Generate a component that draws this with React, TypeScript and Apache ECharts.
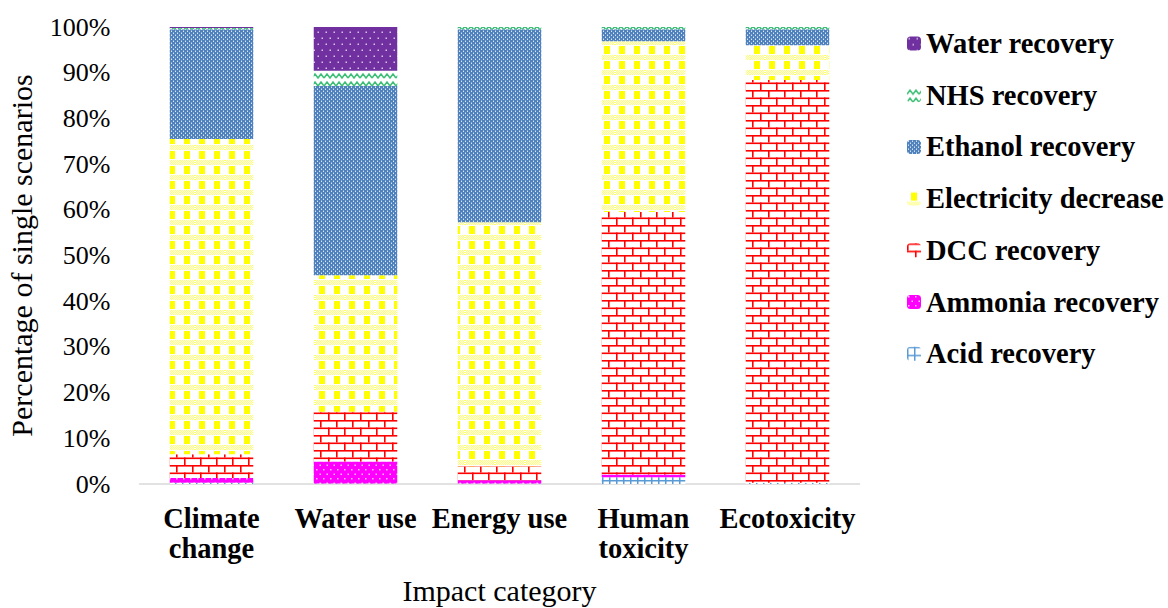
import React, { useEffect, useRef } from "react";
import * as echarts from "echarts";

const categories = ["Climate change", "Water use", "Energy use", "Human toxicity", "Ecotoxicity"];
const wrappedLabels: Record<string, string> = {
  "Climate change": "Climate\nchange",
  "Human toxicity": "Human\ntoxicity",
};
const yTicks = [0, 10, 20, 30, 40, 50, 60, 70, 80, 90, 100];

const acidRecovery = [0.3, 0.1, 0.1, 1.5, 0.3];
const ammoniaRecovery = [1.0, 4.8, 0.7, 0.6, 0.0];
const dccRecovery = [5.2, 10.9, 3.1, 57.4, 88.1];
const electricityDecrease = [69.0, 29.9, 53.4, 37.4, 7.6];
const ethanolRecovery = [24.0, 41.4, 42.2, 2.6, 3.5];
const nhsRecovery = [0.3, 3.3, 0.5, 0.5, 0.5];
const waterRecovery = [0.2, 9.6, 0.0, 0.0, 0.0];

const seriesNames = [
  "Acid recovery",
  "Ammonia recovery",
  "DCC recovery",
  "Electricity decrease",
  "Ethanol recovery",
  "NHS recovery",
  "Water recovery",
];
const seriesValues = [
  acidRecovery,
  ammoniaRecovery,
  dccRecovery,
  electricityDecrease,
  ethanolRecovery,
  nhsRecovery,
  waterRecovery,
];
const legendOrder = [
  "Water recovery",
  "NHS recovery",
  "Ethanol recovery",
  "Electricity decrease",
  "DCC recovery",
  "Ammonia recovery",
  "Acid recovery",
];

const FONT = "Liberation Serif, Times New Roman, serif";

function tile(w: number, h: number, draw: (c: CanvasRenderingContext2D) => void) {
  const cv = document.createElement("canvas");
  cv.width = w;
  cv.height = h;
  const ctx = cv.getContext("2d")!;
  draw(ctx);
  return { image: cv.toDataURL(), repeat: "repeat", imageWidth: w, imageHeight: h } as any;
}

function makePatterns() {
  const acid = tile(7, 8, (c) => {
    c.fillStyle = "#ffffff";
    c.fillRect(0, 0, 7, 8);
    c.fillStyle = "#5B9BD5";
    c.fillRect(0, 0, 1.5, 8);
    c.fillRect(0, 0, 7, 1.5);
  });
  const ammonia = tile(7, 9, (c) => {
    c.fillStyle = "#FF00FF";
    c.fillRect(0, 0, 7, 9);
    c.fillStyle = "#FFC0FF";
    c.fillRect(1, 1, 1.5, 1.5);
    c.fillRect(4.5, 5.5, 1.5, 1.5);
  });
  const dcc = tile(16, 15, (c) => {
    c.fillStyle = "#ffffff";
    c.fillRect(0, 0, 16, 15);
    c.fillStyle = "#FF0000";
    c.fillRect(0, 0, 16, 1.6);
    c.fillRect(0, 7.5, 16, 1.6);
    c.fillRect(0, 0, 1.6, 7.5);
    c.fillRect(8, 7.5, 1.6, 7.5);
  });
  const elec = tile(15, 15, (c) => {
    c.fillStyle = "#ffffff";
    c.fillRect(0, 0, 15, 15);
    c.fillStyle = "#FFFF00";
    c.fillRect(4, 1, 6, 8);
    c.fillStyle = "#FFFF66";
    for (let y = 10; y < 15; y++) {
      for (let x = 0; x < 15; x++) {
        if ((x + y) % 2 === 0) c.fillRect(x, y, 1, 1);
      }
    }
  });
  const ethanol = tile(4, 4, (c) => {
    c.fillStyle = "#4F81BD";
    c.fillRect(0, 0, 4, 4);
    c.fillStyle = "#DCE8F5";
    c.fillRect(1, 1, 1, 1);
    c.fillRect(3, 3, 1, 1);
    c.fillStyle = "#8FB0D8";
    c.fillRect(1, 0, 1, 1);
    c.fillRect(3, 2, 1, 1);
  });
  const nhs = tile(12, 8, (c) => {
    c.fillStyle = "#ffffff";
    c.fillRect(0, 0, 12, 8);
    c.strokeStyle = "#3DBE76";
    c.lineWidth = 1.6;
    c.beginPath();
    c.moveTo(0, 6);
    c.lineTo(3, 2);
    c.lineTo(6, 6);
    c.lineTo(9, 2);
    c.lineTo(12, 6);
    c.stroke();
  });
  const water = tile(8, 12, (c) => {
    c.fillStyle = "#7030A0";
    c.fillRect(0, 0, 8, 12);
    c.fillStyle = "#D8C4E8";
    c.fillRect(1.5, 1.5, 1.5, 1.5);
    c.fillRect(5.5, 7.5, 1.5, 1.5);
  });
  return [acid, ammonia, dcc, elec, ethanol, nhs, water];
}

export default function App() {
  const ref = useRef<HTMLDivElement>(null);
  useEffect(() => {
    if (!ref.current) return;
    const chart = echarts.init(ref.current, null, { renderer: "svg" });
    const patterns = makePatterns();
    const option: any = {
      animation: false,
      backgroundColor: "#ffffff",
      textStyle: { fontFamily: FONT },
      grid: {
        left: 139.5,
        width: 720,
        top: 27,
        height: 457,
        containLabel: false,
        outerBoundsMode: "none",
      },
      legend: {
        orient: "vertical",
        left: 902,
        top: 24,
        itemWidth: 14,
        itemHeight: 14,
        itemGap: 22.7,
        data: legendOrder,
        textStyle: {
          fontFamily: FONT,
          fontSize: 28.5,
          fontWeight: "bold",
          color: "#000",
        },
      },
      xAxis: {
        type: "category",
        data: categories,
        name: "Impact category",
        nameLocation: "middle",
        nameGap: 91,
        nameTextStyle: { fontFamily: FONT, fontSize: 30, color: "#000" },
        axisLine: { show: true, lineStyle: { color: "#D9D9D9", width: 1.5 } },
        axisTick: { show: false },
        axisLabel: {
          interval: 0,
          margin: 19,
          fontFamily: FONT,
          fontSize: 28.5,
          fontWeight: "bold",
          color: "#000",
          lineHeight: 30,
          formatter: (v: string) => wrappedLabels[v] || v,
        },
      },
      yAxis: {
        type: "value",
        min: 0,
        max: 100,
        interval: 10,
        name: "Percentage of single scenarios",
        nameLocation: "middle",
        nameGap: 103,
        nameTextStyle: { fontFamily: FONT, fontSize: 30, color: "#000" },
        axisLine: { show: false },
        axisTick: { show: false },
        splitLine: { show: false },
        axisLabel: {
          margin: 29,
          fontFamily: FONT,
          fontSize: 26,
          color: "#000",
          formatter: (v: number) => (yTicks.includes(v) ? v + "%" : ""),
        },
      },
      series: seriesNames.map((name, i) => ({
        name,
        type: "bar",
        stack: "total",
        barCategoryGap: "42%",
        data: seriesValues[i],
        itemStyle: { color: patterns[i] },
        emphasis: { disabled: true },
      })),
    };
    chart.setOption(option);
    return () => chart.dispose();
  }, []);
  return (
    <div
      ref={ref}
      style={{ position: "absolute", left: 0, top: 0, width: 1168, height: 608, background: "#fff" }}
    />
  );
}
